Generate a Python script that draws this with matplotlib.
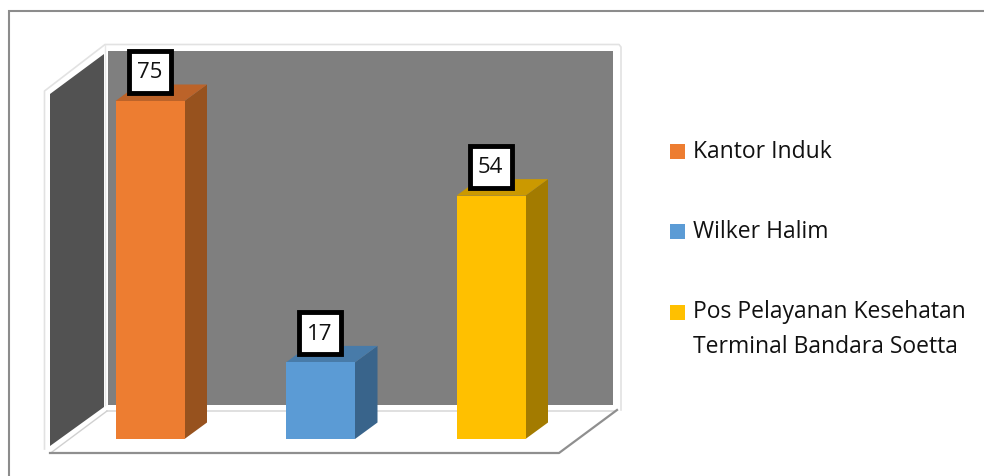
import matplotlib
matplotlib.use('Agg')
import matplotlib.pyplot as plt
from matplotlib.patches import Polygon, Rectangle
from matplotlib.transforms import ScaledTranslation

W, H = 984, 476

# data
categories = ['Kantor Induk', 'Wilker Halim', 'Pos Pelayanan Kesehatan\nTerminal Bandara Soetta']
values = [75, 17, 54]
colors = ['#ED7D31', '#5B9BD5', '#FFC000']
top_colors = ['#BC6329', '#487BA9', '#CB9900']
side_colors = ['#97521E', '#39648B', '#A37B00']

plt.rcParams['font.family'] = ['Open Sans', 'DejaVu Sans']

fig = plt.figure(figsize=(W / 100, H / 100), dpi=100, facecolor='white')

# Background axes works in pixels, it only holds frame and walls
bg = fig.add_axes([0, 0, 1, 1])
bg.set_xlim(0, W)
bg.set_ylim(H, 0)
bg.axis('off')

# the frame is cropped, only its top and left edges are in the picture
bg.plot([8.5, 8.5, W], [H, 11, 11], color='#8C8C8C', lw=1.5, solid_joinstyle='miter')

# white walls with thin grey outline
bg.plot([44.5, 44.5, 105, 619, 621, 621], [449, 91, 44.5, 44.5, 47, 410], color='#E2E2E2', lw=1.2)
bg.plot([105, 105], [45, 405], color='#E8E8E8', lw=1.0)
bg.add_patch(Polygon([(108, 51), (613, 51), (613, 405), (108, 405)], fc='#7F7F7F', ec='none'))
bg.add_patch(Polygon([(50, 94), (104, 54), (104, 407), (50, 446)], fc='#525252', ec='none'))

# floor
bg.plot([107, 615], [411, 411], color='#DADADA', lw=1.2)
bg.plot([52, 107], [452, 411], color='#D0D0D0', lw=1.0)
bg.plot([50, 559, 617], [453, 453, 410], color='#8F8F8F', lw=1.6)

# Bars go in their own axes so that values map through its scale.
# One value unit is 4.507 px and one category step is 170.5 px.
px_x, px_y = 170.5, 338 / 75
ax = fig.add_axes([0, 0, 1, 1], facecolor='none')
ax.set_xlim(-150 / px_x, (W - 150) / px_x)
ax.set_ylim(-(H - 439) / px_y, 439 / px_y)
ax.axis('off')

half = 34.5 / px_x
dx, dy = 22.5 / px_x, 16.5 / px_y

# label boxes sit a fixed distance above the bar top
box_shift = ax.transData + ScaledTranslation(-0.5 / 100, 29 / 100, fig.dpi_scale_trans)
text_shift = ax.transData + ScaledTranslation(-0.5 / 100, 28 / 100, fig.dpi_scale_trans)

for i, v in enumerate(values):
    l, r = i - half, i + half
    ax.add_patch(Polygon([(r, 0), (r + dx, dy), (r + dx, v + dy), (r, v)], fc=side_colors[i], ec='none'))
    ax.add_patch(Polygon([(l, v), (l + dx, v + dy), (r + dx, v + dy), (r, v)], fc=top_colors[i], ec='none'))
    ax.bar(i, v, width=2 * half, color=colors[i], linewidth=0)
    ax.plot([i], [v], marker='s', ms=30.5, mfc='white', mec='black', mew=3.5, transform=box_shift)
    ax.text(i, v, str(v), transform=text_shift, ha='center', va='center', fontsize=16, color='#111111')

# legend by hand, the entries are spaced out over the plot height
legend_y = [151.5, 231.5, 312.5]
for name, c, y in zip(categories, colors, legend_y):
    bg.add_patch(Rectangle((670, y - 7.5), 15, 15, fc=c, ec='none'))
    # two line entry starts at the marker and hangs down from it
    text_y = y + 17 if '\n' in name else y + 1
    bg.text(693, text_y, name, fontsize=16.5, color='#111111', va='center', linespacing=1.58)

fig.savefig('out.png', dpi=100)
